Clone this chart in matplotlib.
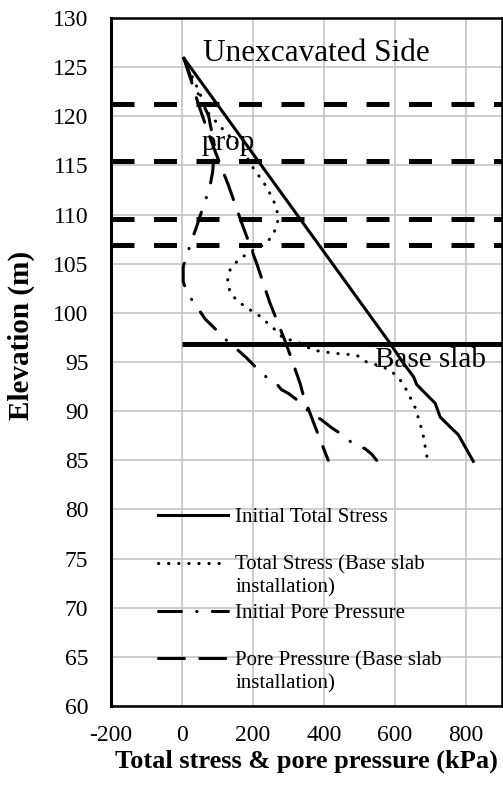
import numpy as np
import matplotlib.pyplot as plt

plt.rcParams['font.family'] = ['Liberation Serif', 'DejaVu Serif']
plt.rcParams['axes.unicode_minus'] = False

# Initial total stress (kPa) vs elevation (m)
total_init_x = [6, 586, 623, 652, 661, 680, 713, 727, 755, 778, 792, 820]
total_init_y = [125.9, 96.9, 94.9, 93.5, 92.7, 92.0, 90.8, 89.4, 88.4, 87.6, 86.7, 84.9]

# Total stress after base slab installation
total_slab_x = [6, 40, 75, 120, 173, 192, 239, 262, 272, 267, 253, 229, 192, 159, 136, 128,
                136, 154, 183, 215, 243, 262, 286, 323, 370, 426, 492, 520, 549, 586, 614,
                633, 656, 670, 680, 692]
total_slab_y = [125.9, 123.2, 120.3, 118.5, 116.6, 115.2, 112.8, 111.1, 109.8, 108.8, 107.7,
                106.9, 106.2, 105.4, 104.4, 103.2, 102.1, 101.3, 100.5, 99.8, 98.9, 98.3,
                97.4, 97.1, 96.2, 95.9, 95.7, 95.0, 94.7, 94.2, 93.2, 92.1, 90.4, 88.8,
                87.4, 84.9]

# Initial pore pressure
pore_init_x = [6, 30, 55, 75, 92, 87, 79, 65, 51, 42, 28, 12, 4, 4, 12, 23, 45, 65, 96, 126,
               155, 183, 215, 243, 262, 280, 300, 333, 366, 390, 422, 456, 487, 515, 535, 548]
pore_init_y = [125.9, 123.5, 121.6, 120.1, 117.0, 114.4, 112.8, 111.3, 109.8, 108.8, 107.4,
               105.6, 104.7, 103.2, 102.3, 101.6, 100.5, 99.4, 98.3, 97.2, 96.3, 95.4, 94.2,
               93.3, 93.0, 92.2, 91.8, 90.9, 89.6, 89.2, 88.3, 87.5, 86.5, 86.2, 85.6, 85.0]

# Pore pressure after base slab installation
pore_slab_x = [6, 25, 46, 70, 93, 131, 169, 211, 248, 290, 305, 333, 342, 370, 384, 412]
pore_slab_y = [125.9, 123.8, 121.3, 118.8, 116.5, 113.0, 109.1, 105.0, 101.0, 97.2, 95.7,
               92.8, 91.6, 88.9, 87.6, 85.0]

prop_levels = [121.3, 115.45, 109.6, 106.9]
slab_level = 96.8

labels = ['Initial Total Stress\n ', 'Total Stress (Base slab\ninstallation)',
          'Initial Pore Pressure\n ', 'Pore Pressure (Base slab\ninstallation)']

fig = plt.figure(figsize=(5.03, 7.87), dpi=100)
ax = fig.add_axes([0.2201, 0.1029, 0.7773, 0.8742])

for lvl in prop_levels:
    ax.plot([-200, 900], [lvl, lvl], color='black', lw=3.6, linestyle=(0, (4.6, 3.9)),
            solid_capstyle='butt', dash_capstyle='butt', zorder=2)
ax.plot([0, 900], [slab_level, slab_level], color='black', lw=3.6, solid_capstyle='butt', zorder=2)

h1, = ax.plot(total_init_x, total_init_y, color='black', lw=2.2, zorder=3)
h2, = ax.plot(total_slab_x, total_slab_y, color='black', lw=2.2, linestyle=(0, (0.1, 3.2)),
              dash_capstyle='round', zorder=3)
h3, = ax.plot(pore_init_x, pore_init_y, color='black', lw=2.2,
              linestyle=(0, (7.5, 5, 0.1, 5)), dash_capstyle='round', zorder=3)
h4, = ax.plot(pore_slab_x, pore_slab_y, color='black', lw=2.2, linestyle=(0, (8.5, 5)),
              dash_capstyle='round', zorder=3)

ax.text(60, 125.6, 'Unexcavated Side', fontsize=22.5, va='baseline', ha='left')
ax.text(56, 116.6, 'prop', fontsize=21, va='baseline', ha='left')
ax.text(544, 94.5, 'Base slab', fontsize=21, va='baseline', ha='left')

ax.set_xlim(-200, 900)
ax.set_ylim(60, 130)
ax.set_xticks(np.arange(-200, 801, 200))
ax.set_yticks(np.arange(60, 131, 5))
ax.grid(True, color='#c0c0c0', lw=1.1, zorder=0)
ax.set_axisbelow(True)
ax.tick_params(axis='both', length=0, labelsize=17)
ax.tick_params(axis='y', pad=16)
ax.tick_params(axis='x', pad=14)
for s in ax.spines.values():
    s.set_linewidth(1.8)
ax.spines['left'].set_linewidth(2.2)

ax.set_xlabel('Total stress & pore pressure (kPa)', fontsize=19, fontweight='bold', labelpad=2)
ax.set_ylabel('Elevation (m)', fontsize=21, fontweight='bold')
ax.yaxis.set_label_coords(-0.194, 0.539)

leg = ax.legend([h1, h2, h3, h4], labels, loc='upper left', bbox_to_anchor=(0.121, 0.288),
                frameon=False, fontsize=15, handlelength=3.36, handletextpad=0.34,
                labelspacing=0.29, borderpad=0, borderaxespad=0)
for t in leg.get_texts():
    t.set_linespacing(1.25)
# put the key next to the first line of each label, as Excel does
for col in leg._legend_handle_box.get_children():
    for row in col.get_children():
        row.align = 'top'

fig.savefig('out.png', dpi=100)
